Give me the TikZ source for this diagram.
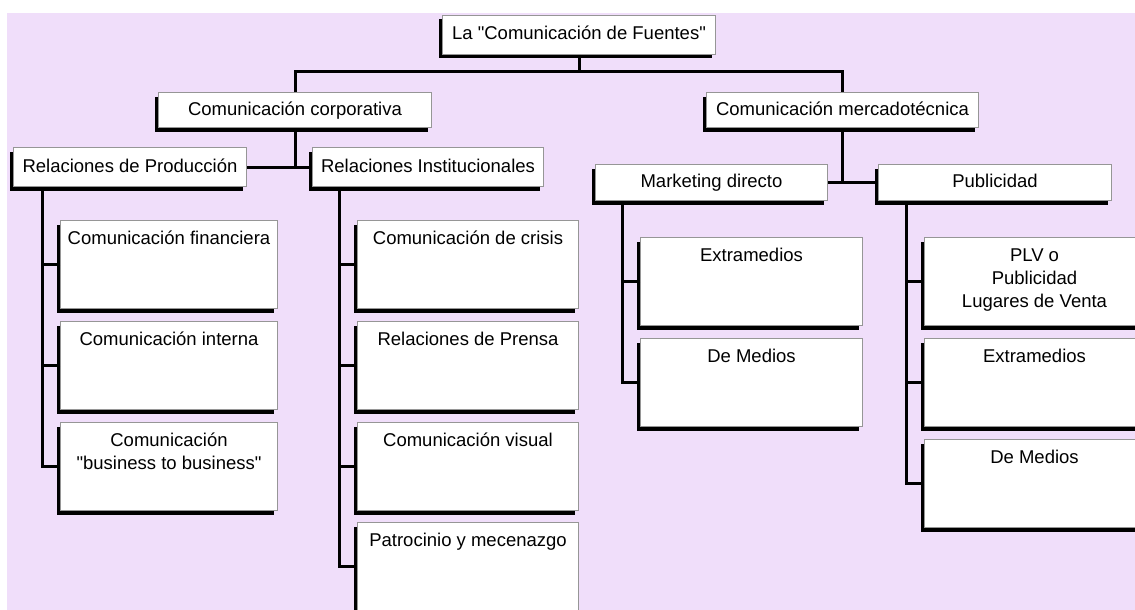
\documentclass[tikz,border=0pt]{standalone}
\usepackage{fontspec}
\setmainfont{Liberation Sans}
\usetikzlibrary{shadows}
\definecolor{lav}{RGB}{240,222,250}
\definecolor{edgegray}{RGB}{150,150,150}
\begin{document}
\begin{tikzpicture}[x=1pt,y=-1pt,
  shad/.style={drop shadow={shadow xshift=-4pt,shadow yshift=-4pt,opacity=1,fill=black}},
  hbox/.style={shad,draw=edgegray,line width=1pt,fill=white,inner sep=0pt,anchor=north west,
    text height=13pt,text depth=3pt,font=\fontsize{18.5}{23}\selectfont},
  leaf/.style={hbox,text height=24pt,text depth=64pt},
  conn/.style={line width=3pt,black}]
\useasboundingbox (0,0) rectangle (1135,610);
\clip (0,0) rectangle (1135,610);
\fill[lav] (7,13) rectangle (1135,610);

% header boxes
\node[hbox,minimum width=273pt,minimum height=39pt] (root) at (442,15) {La \textquotedbl Comunicación de Fuentes\textquotedbl};
\node[hbox,minimum width=273pt,minimum height=35pt] (cc) at (158,92) {Comunicación corporativa};
\node[hbox,minimum width=272pt,minimum height=35pt] (mc) at (706,92) {Comunicación mercadotécnica};
\node[hbox,minimum width=233pt,minimum height=39pt] (rp) at (13,147) {Relaciones de Producción};
\node[hbox,minimum width=231pt,minimum height=39pt] (ri) at (312,147) {Relaciones Institucionales};
\node[hbox,minimum width=232pt,minimum height=36pt] (md) at (595,164) {Marketing directo};
\node[hbox,minimum width=233pt,minimum height=36pt] (pb) at (878,164) {Publicidad};

% leaf boxes
\node[leaf,minimum width=217pt] (f1) at (60,220) {Comunicación financiera};
\node[leaf,minimum width=217pt] (f2) at (60,321) {Comunicación interna};
\node[leaf,minimum width=217pt] (f3) at (60,422) {\begin{tabular}[t]{@{}c@{}}Comunicación\\\textquotedbl business to business\textquotedbl\end{tabular}};

\node[leaf,minimum width=221pt] (i1) at (357,220) {Comunicación de crisis};
\node[leaf,minimum width=221pt] (i2) at (357,321) {Relaciones de Prensa};
\node[leaf,minimum width=221pt] (i3) at (357,422) {Comunicación visual};
\node[leaf,minimum width=221pt] (i4) at (357,522) {Patrocinio y mecenazgo};

\node[leaf,minimum width=222pt] (m1) at (640,237) {Extramedios};
\node[leaf,minimum width=222pt] (m2) at (640,338) {De Medios};

\node[leaf,minimum width=220pt] (p1) at (924,237) {\begin{tabular}[t]{@{}c@{}}PLV o\\Publicidad\\Lugares de Venta\end{tabular}};
\node[leaf,minimum width=220pt] (p2) at (924,338) {Extramedios};
\node[leaf,minimum width=220pt] (p3) at (924,439) {De Medios};

% connectors
\coordinate (j0) at (576,72);
\draw[conn] (root.south) -- (root.south|-j0);
\draw[conn] (cc.north) -- (cc.north|-j0) -- (mc.north|-j0) -- (mc.north);
\draw[conn] (cc.south) -- (cc.south|-rp.east);
\draw[conn] (rp.east) -- (ri.west);
\draw[conn] (mc.south) -- (mc.south|-md.east);
\draw[conn] (md.east) -- (pb.west);

\coordinate (tp) at ([xshift=29pt]rp.south west);
\draw[conn] (tp) |- (f3.west);
\draw[conn] (f1.west) -- (f1.west-|tp);
\draw[conn] (f2.west) -- (f2.west-|tp);

\coordinate (ti) at ([xshift=27pt]ri.south west);
\draw[conn] (ti) |- (i4.west);
\draw[conn] (i1.west) -- (i1.west-|ti);
\draw[conn] (i2.west) -- (i2.west-|ti);
\draw[conn] (i3.west) -- (i3.west-|ti);

\coordinate (tm) at ([xshift=27pt]md.south west);
\draw[conn] (tm) |- (m2.west);
\draw[conn] (m1.west) -- (m1.west-|tm);

\coordinate (tb) at ([xshift=28.5pt]pb.south west);
\draw[conn] (tb) |- (p3.west);
\draw[conn] (p1.west) -- (p1.west-|tb);
\draw[conn] (p2.west) -- (p2.west-|tb);
\end{tikzpicture}
\end{document}
